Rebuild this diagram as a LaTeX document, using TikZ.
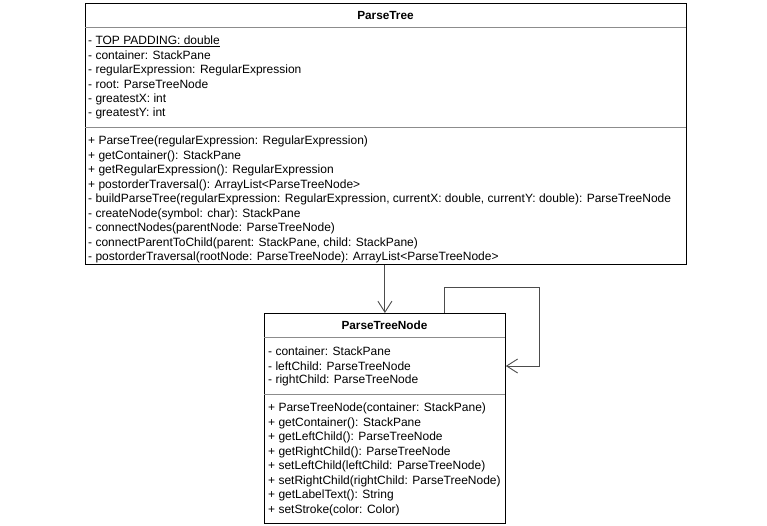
\documentclass[tikz,border=0pt]{standalone}
\usepackage{fontspec}
\setmainfont{Liberation Sans}
\usetikzlibrary{arrows.meta,calc}

\tikzset{
  classbox/.style={draw=black, line width=0.8pt, inner sep=0pt, anchor=north west},
  sepline/.style={draw=black!45, line width=0.6pt},
  member/.style={anchor=west, inner sep=0pt, font=\fontsize{12}{14}\selectfont},
  title/.style={inner sep=0pt, font=\fontsize{11.8}{14}\selectfont\bfseries},
  assoc/.style={draw=black!70, line width=0.9pt, -{Straight Barb[length=11pt,width=14pt]}}
}

\begin{document}
\begin{tikzpicture}[x=1pt,y=-1pt]
\useasboundingbox (0,0) rectangle (767,525);

% ParseTree
\node[classbox, minimum width=601pt, minimum height=261pt] (tree) at (85,3) {};
\node[title] (treetitle) at (385.5,15.5) {ParseTree};
\draw[sepline] (85,27) -- (686,27);
\draw[sepline] (85,127) -- (686,127);
\node[member] (t1) at (88,41) {- \underline{TOP PADDING: double}};
\node[member] (t2) at (88,55.5) {- container: StackPane};
\node[member] (t3) at (88,70) {- regularExpression: RegularExpression};
\node[member] (t4) at (88,84.5) {- root: ParseTreeNode};
\node[member] (t5) at (88,99) {- greatestX: int};
\node[member] (t6) at (88,113.5) {- greatestY: int};
\node[member] (m1) at (88,141.5) {+ ParseTree(regularExpression: RegularExpression)};
\node[member] (m2) at (88,156) {+ getContainer(): StackPane};
\node[member] (m3) at (88,170.5) {+ getRegularExpression(): RegularExpression};
\node[member] (m4) at (88,185) {+ postorderTraversal(): ArrayList<ParseTreeNode>};
\node[member] (m5) at (88,199.5) {- buildParseTree(regularExpression: RegularExpression, currentX: double, currentY: double): ParseTreeNode};
\node[member] (m6) at (88,214) {- createNode(symbol: char): StackPane};
\node[member] (m7) at (88,228.5) {- connectNodes(parentNode: ParseTreeNode)};
\node[member] (m8) at (88,243) {- connectParentToChild(parent: StackPane, child: StackPane)};
\node[member] (m9) at (88,257.5) {- postorderTraversal(rootNode: ParseTreeNode): ArrayList<ParseTreeNode>};

% ParseTreeNode
\node[classbox, minimum width=241pt, minimum height=210pt] (treenode) at (264,313) {};
\node[title] (nodetitle) at (384.5,325) {ParseTreeNode};
\draw[sepline] (264,337) -- (505,337);
\draw[sepline] (264,394) -- (505,394);
\node[member] (n1) at (268,351.5) {- container: StackPane};
\node[member] (n2) at (268,366) {- leftChild: ParseTreeNode};
\node[member] (n3) at (268,380.5) {- rightChild: ParseTreeNode};
\node[member] (k1) at (268,408.5) {+ ParseTreeNode(container: StackPane)};
\node[member] (k2) at (268,423) {+ getContainer(): StackPane};
\node[member] (k3) at (268,437.5) {+ getLeftChild(): ParseTreeNode};
\node[member] (k4) at (268,452) {+ getRightChild(): ParseTreeNode};
\node[member] (k5) at (268,466.5) {+ setLeftChild(leftChild: ParseTreeNode)};
\node[member] (k6) at (268,481) {+ setRightChild(rightChild: ParseTreeNode)};
\node[member] (k7) at (268,495.5) {+ getLabelText(): String};
\node[member] (k8) at (268,510) {+ setStroke(color: Color)};

% associations
\coordinate (loopend) at (539,366);
\draw[assoc] (treenode.north |- tree.south) -- (treenode.north);
\draw[assoc] ([xshift=59.5pt]treenode.north) -- ++(0,-26) -| (loopend) -- (treenode.east |- loopend);
\end{tikzpicture}
\end{document}
